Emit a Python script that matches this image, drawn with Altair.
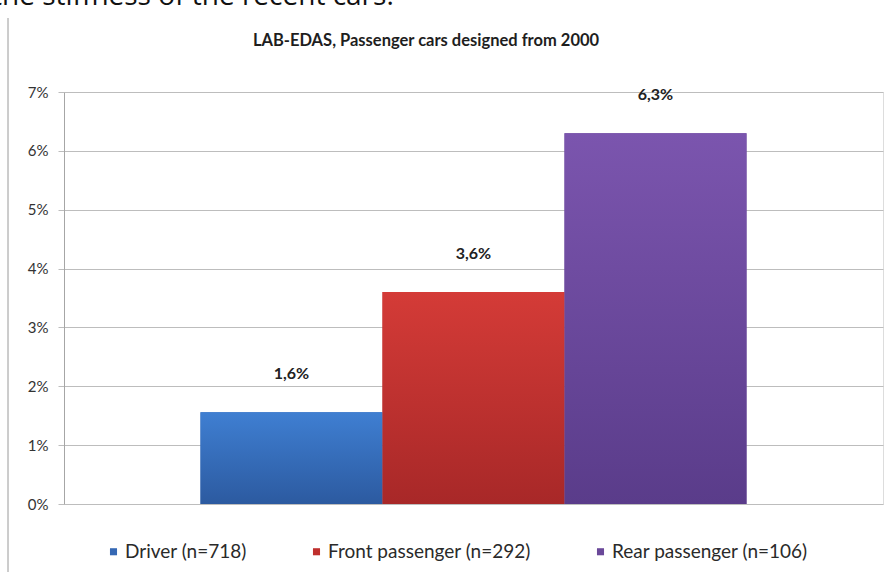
import altair as alt
import pandas as pd

series = ["Driver (n=718)", "Front passenger (n=292)", "Rear passenger (n=106)"]
values = [0.0156, 0.036, 0.063]
y_ticks = [0, 0.01, 0.02, 0.03, 0.04, 0.05, 0.06, 0.07]
colors = ["#3568b4", "#bf2f2d", "#6a4899"]
tops = ["#3f7fd2", "#d43b37", "#7b55ae"]
bottoms = ["#2c5aa0", "#a82828", "#5a3c8a"]

title_text = "LAB-EDAS, Passenger cars designed from 2000"
top_text = "the stiffness of the recent cars."

df = pd.DataFrame({"series": series, "value": values})

FONT = "Lato"

x_enc = alt.X("series:N", sort=series,
              scale=alt.Scale(domain=series, paddingInner=0, paddingOuter=0.75),
              axis=None)
y_enc = alt.Y("value:Q",
              scale=alt.Scale(domain=[0, 0.07], nice=False),
              axis=alt.Axis(format=".0%", values=y_ticks, title=None,
                            grid=True, gridColor="#bdbdbd", gridWidth=1,
                            domain=True, domainColor="#a6a6a6",
                            ticks=True, tickSize=6, tickColor="#bdbdbd",
                            labelFont=FONT, labelFontSize=15, labelColor="#333333",
                            labelPadding=10))

base = alt.Chart(df)

bars = base.mark_bar(size=182).encode(
    x=x_enc,
    y=y_enc,
    color=alt.Color("series:N", sort=series,
                    scale=alt.Scale(domain=series, range=colors),
                    legend=alt.Legend(title=None, orient="none", direction="horizontal",
                                      legendX=40, legendY=450,
                                      symbolType="square", symbolSize=50,
                                      symbolStrokeWidth=0,
                                      labelFont=FONT, labelFontSize=19, labelLimit=0,
                                      labelColor="#2a2a2a", labelOffset=2,
                                      columnPadding=60, padding=0)),
)

grads = []
for s, t, b in zip(series, tops, bottoms):
    grads.append(
        base.transform_filter(alt.datum.series == s).mark_bar(
            size=182,
            color=alt.Gradient(gradient="linear",
                               stops=[alt.GradientStop(color=t, offset=0),
                                      alt.GradientStop(color=b, offset=1)],
                               x1=0, x2=0, y1=0, y2=1)
        ).encode(x=x_enc, y=alt.Y("value:Q"))
    )

labels = base.transform_calculate(
    label="replace(format(datum.value, '.1%'), '.', ',')"
).mark_text(font=FONT, fontSize=16, fontWeight="bold", color="#222222",
            baseline="middle", dy=-38).encode(
    x=alt.X("series:N", sort=series),
    y=alt.Y("value:Q"),
    text="label:N",
)

frame = alt.Chart(pd.DataFrame({"a": [0]})).mark_rule(color="#9a9a9a", strokeWidth=1).encode(
    x=alt.value(-56), y=alt.value(-74), y2=alt.value(480)
)

title_mark = alt.Chart(pd.DataFrame({"t": [title_text]})).mark_text(
    font=FONT, fontSize=16.5, fontWeight="bold", color="#1e1e1e",
    align="center", baseline="middle"
).encode(x=alt.value(362), y=alt.value(-51), text="t:N")

top_label = alt.Chart(pd.DataFrame({"t": [top_text]})).mark_text(
    font="Open Sans", fontSize=28, color="#111111", align="left", baseline="alphabetic"
).encode(x=alt.value(-72), y=alt.value(-87), text="t:N")

chart = alt.layer(bars, *grads, labels, frame, title_mark, top_label).properties(
    width=819, height=412,
    padding={"left": 64, "top": 92, "right": 2, "bottom": 68},
    autosize=alt.AutoSizeParams(type="none"),
).configure_view(stroke=None).configure(background="white")

chart.save("out.html", embed_options={"renderer": "svg", "actions": False})
